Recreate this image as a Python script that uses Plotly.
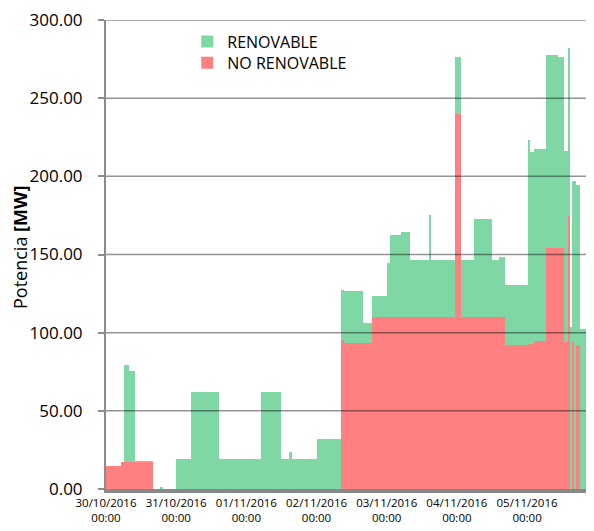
import pandas as pd
import plotly.graph_objects as go

# ---- data (step changes) ----
start_times = [
    "2016-10-30 00:00", "2016-10-30 05:00", "2016-10-30 06:00", "2016-10-30 08:00",
    "2016-10-30 10:00", "2016-10-30 16:00", "2016-10-30 18:30", "2016-10-30 19:30",
    "2016-10-31 00:00", "2016-10-31 05:00", "2016-10-31 14:30", "2016-11-01 05:00",
    "2016-11-01 12:00", "2016-11-01 14:45", "2016-11-01 15:30", "2016-11-02 00:00",
    "2016-11-02 08:30", "2016-11-02 09:30", "2016-11-02 16:00", "2016-11-02 19:00",
    "2016-11-03 00:00", "2016-11-03 01:00", "2016-11-03 05:00", "2016-11-03 08:00",
    "2016-11-03 14:40", "2016-11-03 15:00", "2016-11-03 23:30", "2016-11-04 01:30",
    "2016-11-04 06:00", "2016-11-04 12:00", "2016-11-04 14:30", "2016-11-04 16:30",
    "2016-11-05 00:30", "2016-11-05 00:45", "2016-11-05 02:30", "2016-11-05 06:30",
    "2016-11-05 10:30", "2016-11-05 12:30", "2016-11-05 14:00", "2016-11-05 14:45",
    "2016-11-05 15:30", "2016-11-05 16:00", "2016-11-05 16:45", "2016-11-05 18:00",
]
end_time = "2016-11-05 23:00"

no_renovable = [
    14.7, 17.3, 17.3, 17.3,
    17.3, 0.0, 0.0, 0.0,
    0.0, 0.0, 0.0, 0.0,
    0.0, 0.0, 0.0, 0.0,
    95.0, 93.2, 93.2, 109.9,
    109.9, 109.9, 109.9, 109.9,
    109.9, 109.9, 239.9, 109.9,
    109.9, 109.9, 109.9, 92.2,
    93.0, 93.0, 94.7, 154.4,
    154.4, 94.3, 174.9, 0.0,
    94.3, 0.0, 92.2, 0.0,
]
renovable = [
    0.0, 0.0, 62.3, 58.0,
    0.5, 0.0, 1.5, 0.0,
    19.4, 61.8, 19.4, 61.8,
    19.4, 23.4, 19.4, 32.3,
    32.4, 33.3, 12.9, 13.3,
    34.8, 52.6, 54.5, 36.7,
    65.4, 36.7, 36.5, 36.7,
    62.9, 36.7, 38.2, 38.0,
    130.0, 122.6, 123.0, 123.0,
    121.7, 122.0, 107.2, 103.8,
    103.0, 197.3, 102.3, 102.1,
]

y_ticks = [0, 50, 100, 150, 200, 250, 300]
x_range = ["2016-10-30 00:00", "2016-11-05 22:54"]

# ---- build ----
t = pd.to_datetime(start_times)
t_next = pd.to_datetime(start_times[1:] + [end_time])
widths_ms = [(b - a).total_seconds() * 1000 for a, b in zip(t, t_next)]

GREEN = "#80d7a6"
RED = "#ff8080"

fig = go.Figure()
fig.add_trace(go.Bar(
    x=t, y=no_renovable, width=widths_ms, offset=0, name="NO RENOVABLE",
    marker=dict(color=RED, line=dict(width=0)), legend="legend2",
))
fig.add_trace(go.Bar(
    x=t, y=renovable, width=widths_ms, offset=0, name="RENOVABLE",
    marker=dict(color=GREEN, line=dict(width=0)), legend="legend",
))

shapes = []
for v in y_ticks[1:]:
    shapes.append(dict(type="line", xref="paper", x0=0, x1=1, yref="y", y0=v, y1=v,
                       line=dict(color="rgba(0,0,0,0.42)", width=1.5), layer="above"))

legend_style = dict(xanchor="left", yanchor="top", font=dict(size=16, color="#000"),
                    bgcolor="rgba(0,0,0,0)")

fig.update_layout(
    width=586, height=523,
    margin=dict(l=98, r=0, t=12, b=42, autoexpand=False),
    paper_bgcolor="white", plot_bgcolor="white",
    barmode="stack", bargap=0,
    font=dict(family="Open Sans", color="#000000"),
    shapes=shapes,
    showlegend=True,
    legend=dict(x=0.1665, y=0.9904, **legend_style),
    legend2=dict(x=0.1665, y=0.945, **legend_style),
    annotations=[dict(text="Potencia <b>[MW]</b>", textangle=-90, xref="paper", yref="paper",
                      x=-0.1762, y=0.5139, xanchor="center", yanchor="middle",
                      showarrow=False, font=dict(size=18, color="#000"))],
)
fig.update_yaxes(
    range=[0, 300], tickvals=y_ticks, tickformat=".2f", showgrid=False, zeroline=False,
    showline=True, linecolor="#8c8c8c", linewidth=2, automargin=False,
    ticks="outside", ticklen=6, tickcolor="#8c8c8c", tickwidth=1.5,
    ticklabelstandoff=12, ticklabeloverflow="allow", tickfont=dict(size=17, color="#000"),
)
fig.update_xaxes(
    type="date", range=x_range, tick0="2016-10-30", dtick=86400000,
    tickformat="%d/%m/%Y<br>%H:%M", showgrid=False, zeroline=False, automargin=False,
    showline=True, linecolor="#888888", linewidth=4, ticks="",
    tickfont=dict(size=11.5, color="#000"),
)

fig.write_html("out.html")
